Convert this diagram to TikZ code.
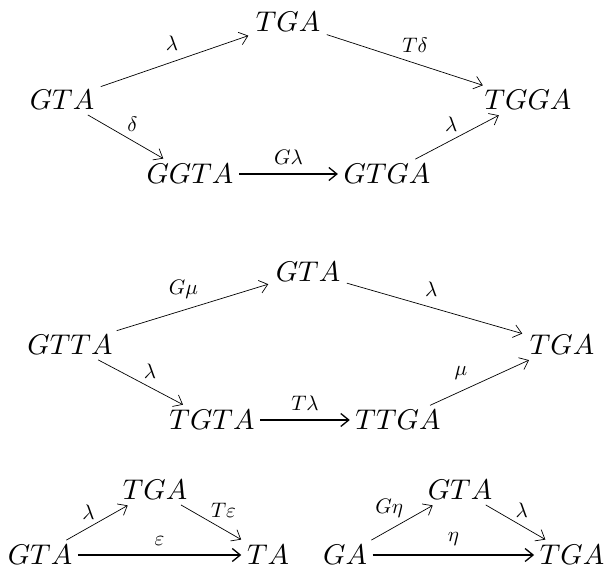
\documentclass[tikz,border=0pt]{standalone}
\usetikzlibrary{arrows.meta}
\begin{document}
\begin{tikzpicture}[x=1pt,y=-1pt,
  obj/.style={inner sep=1.1pt, scale=2.85},
  lab/.style={inner sep=1pt, scale=2.1},
  arr/.style={-{Straight Barb[length=8pt,width=13pt]}, line width=0.7pt, shorten <=3pt, shorten >=4pt},
  harr/.style={arr, line width=1.3pt, shorten <=2pt, shorten >=2pt}]
\useasboundingbox (0,0) rectangle (606,572);
% diagram 1
\node[obj] (a1) at (62,100) {$GTA$};
\node[obj] (b1) at (288,22) {$TGA$};
\node[obj] (c1) at (528,100) {$TGGA$};
\node[obj] (d1) at (190,174) {$GGTA$};
\node[obj] (e1) at (387,174) {$GTGA$};
\draw[arr] (a1) -- node[lab, above=4pt, pos=0.48] {$\lambda$} (b1);
\draw[arr] (b1) -- node[lab, above=4pt, pos=0.56] {$T\delta$} (c1);
\draw[arr] (a1) -- node[lab, above=3pt, pos=0.58] {$\delta$} (d1);
\draw[arr] (e1) -- node[lab, above=3pt, pos=0.43] {$\lambda$} (c1);
\draw[harr] (d1) -- node[lab, above=3pt] {$G\lambda$} (e1);
% diagram 2
\node[obj] (a2) at (70,345) {$GTTA$};
\node[obj] (b2) at (308,272) {$GTA$};
\node[obj] (c2) at (562,345) {$TGA$};
\node[obj] (d2) at (212,420) {$TGTA$};
\node[obj] (e2) at (398,420) {$TTGA$};
\draw[arr] (a2) -- node[lab, above=4pt, pos=0.44] {$G\mu$} (b2);
\draw[arr] (b2) -- node[lab, above=4pt, pos=0.48] {$\lambda$} (c2);
\draw[arr] (a2) -- node[lab, above=3pt, pos=0.6] {$\lambda$} (d2);
\draw[arr] (e2) -- node[lab, above=4pt, pos=0.32] {$\mu$} (c2);
\draw[harr] (d2) -- node[lab, above=3pt] {$T\lambda$} (e2);
% diagram 3 left
\node[obj] (a3) at (40,555) {$GTA$};
\node[obj] (b3) at (155,490) {$TGA$};
\node[obj] (c3) at (268,555) {$TA$};
\draw[arr] (a3) -- node[lab, above left=0pt, pos=0.5] {$\lambda$} (b3);
\draw[arr] (b3) -- node[lab, above right=0pt, pos=0.45] {$T\varepsilon$} (c3);
\draw[harr] (a3) -- node[lab, above=3pt] {$\varepsilon$} (c3);
% diagram 3 right
\node[obj] (a4) at (345,555) {$GA$};
\node[obj] (b4) at (460,490) {$GTA$};
\node[obj] (c4) at (572,555) {$TGA$};
\draw[arr] (a4) -- node[lab, above left=0pt, pos=0.55] {$G\eta$} (b4);
\draw[arr] (b4) -- node[lab, above right=0pt, pos=0.45] {$\lambda$} (c4);
\draw[harr] (a4) -- node[lab, above=3pt] {$\eta$} (c4);
\end{tikzpicture}
\end{document}
